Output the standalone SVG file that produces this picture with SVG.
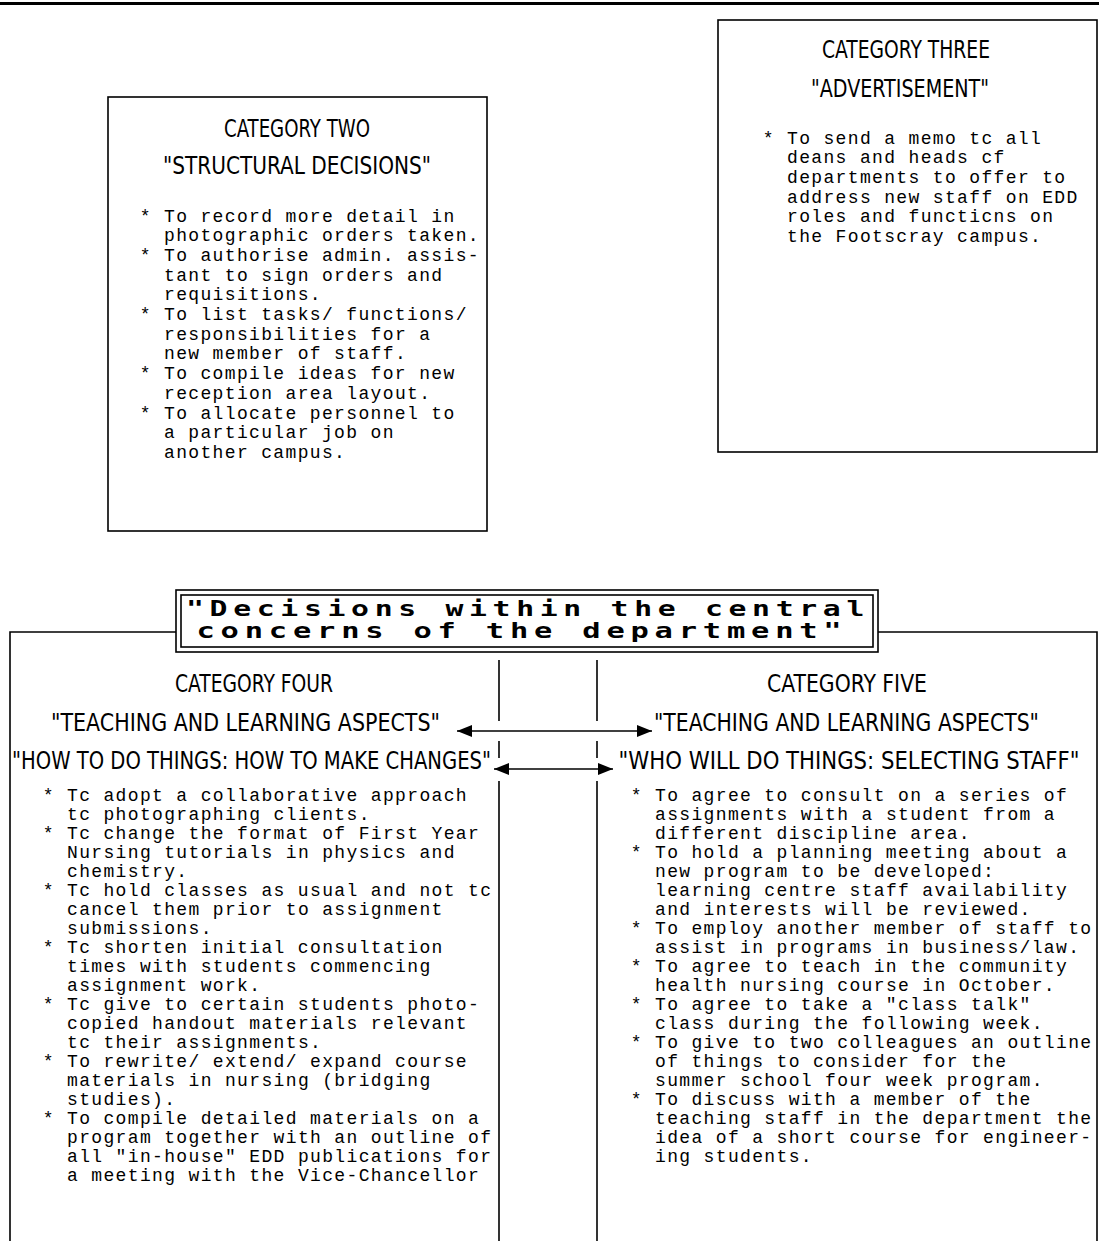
<svg xmlns="http://www.w3.org/2000/svg" width="1099" height="1241" viewBox="0 0 1099 1241">
<style>
.frame{fill:none;stroke:#000;stroke-width:1.6}
.ln{fill:none;stroke:#000;stroke-width:1.6}
.hd{font-family:"Liberation Sans Narrow","DejaVu Sans Condensed","Liberation Sans",sans-serif;font-stretch:condensed;font-size:25px;fill:#000;text-anchor:middle}
.bd{font-family:"Liberation Mono","DejaVu Sans Mono",monospace;font-size:18px;letter-spacing:1.35px;fill:#000}
.tt{font-family:"DejaVu Sans Mono","Liberation Mono",monospace;font-weight:bold;font-size:21px;letter-spacing:4px;fill:#000;text-anchor:middle}
</style>
<defs>
<marker id="ah" viewBox="0 0 15 12" refX="15" refY="6" markerWidth="15" markerHeight="12" markerUnits="userSpaceOnUse" orient="auto-start-reverse">
<path d="M0,0 L15,6 L0,12 Z" fill="#000"/>
</marker>
</defs>
<rect x="0" y="2" width="1099" height="3" fill="#000"/>

<g id="cat2">
<rect class="frame" x="108" y="97" width="379" height="434"/>
<text class="hd" x="297" y="137" textLength="146" lengthAdjust="spacingAndGlyphs">CATEGORY TWO</text>
<text class="hd" x="297" y="174" textLength="268" lengthAdjust="spacingAndGlyphs">"STRUCTURAL DECISIONS"</text>
<text class="bd" x="139.7" y="221.5">* To record more detail in</text>
<text class="bd" x="164" y="241.2">photographic orders taken.</text>
<text class="bd" x="139.7" y="260.9">* To authorise admin. assis-</text>
<text class="bd" x="164" y="280.6">tant to sign orders and</text>
<text class="bd" x="164" y="300.3">requisitions.</text>
<text class="bd" x="139.7" y="320">* To list tasks/ functions/</text>
<text class="bd" x="164" y="339.7">responsibilities for a</text>
<text class="bd" x="164" y="359.4">new member of staff.</text>
<text class="bd" x="139.7" y="379.1">* To compile ideas for new</text>
<text class="bd" x="164" y="398.8">reception area layout.</text>
<text class="bd" x="139.7" y="418.5">* To allocate personnel to</text>
<text class="bd" x="164" y="438.2">a particular job on</text>
<text class="bd" x="164" y="457.9">another campus.</text>
</g>

<g id="cat3">
<rect class="frame" x="718" y="20" width="379" height="432"/>
<text class="hd" x="906" y="58" textLength="168" lengthAdjust="spacingAndGlyphs">CATEGORY THREE</text>
<text class="hd" x="900" y="97" textLength="178" lengthAdjust="spacingAndGlyphs">"ADVERTISEMENT"</text>
<text class="bd" x="762.7" y="143.5">* To send a memo tc all</text>
<text class="bd" x="787" y="163.2">deans and heads cf</text>
<text class="bd" x="787" y="182.9">departments to offer to</text>
<text class="bd" x="787" y="202.6">address new staff on EDD</text>
<text class="bd" x="787" y="222.3">roles and functicns on</text>
<text class="bd" x="787" y="242">the Footscray campus.</text>
</g>

<g id="title">
<rect class="frame" x="176" y="590" width="702" height="62"/>
<rect class="frame" x="181" y="595" width="692" height="52"/>
<text class="tt" x="528" y="616" textLength="684" lengthAdjust="spacingAndGlyphs">"Decisions within the central</text>
<text class="tt" x="522" y="638" textLength="651" lengthAdjust="spacingAndGlyphs">concerns of the department"</text>
</g>

<g id="cat4">
<text class="hd" x="254" y="692" textLength="158" lengthAdjust="spacingAndGlyphs">CATEGORY FOUR</text>
<text class="hd" x="245.5" y="731" textLength="389" lengthAdjust="spacingAndGlyphs">"TEACHING AND LEARNING ASPECTS"</text>
<text class="hd" x="251.5" y="769" textLength="479" lengthAdjust="spacingAndGlyphs">"HOW TO DO THINGS: HOW TO MAKE CHANGES"</text>
<text class="bd" x="42.7" y="800.5">* Tc adopt a collaborative approach</text>
<text class="bd" x="67" y="819.5">tc photographing clients.</text>
<text class="bd" x="42.7" y="838.5">* Tc change the format of First Year</text>
<text class="bd" x="67" y="857.5">Nursing tutorials in physics and</text>
<text class="bd" x="67" y="876.5">chemistry.</text>
<text class="bd" x="42.7" y="895.5">* Tc hold classes as usual and not tc</text>
<text class="bd" x="67" y="914.5">cancel them prior to assignment</text>
<text class="bd" x="67" y="933.5">submissions.</text>
<text class="bd" x="42.7" y="952.5">* Tc shorten initial consultation</text>
<text class="bd" x="67" y="971.5">times with students commencing</text>
<text class="bd" x="67" y="990.5">assignment work.</text>
<text class="bd" x="42.7" y="1009.5">* Tc give to certain students photo-</text>
<text class="bd" x="67" y="1028.5">copied handout materials relevant</text>
<text class="bd" x="67" y="1047.5">tc their assignments.</text>
<text class="bd" x="42.7" y="1066.5">* To rewrite/ extend/ expand course</text>
<text class="bd" x="67" y="1085.5">materials in nursing (bridging</text>
<text class="bd" x="67" y="1104.5">studies).</text>
<text class="bd" x="42.7" y="1123.5">* To compile detailed materials on a</text>
<text class="bd" x="67" y="1142.5">program together with an outline of</text>
<text class="bd" x="67" y="1161.5">all "in-house" EDD publications for</text>
<text class="bd" x="67" y="1180.5">a meeting with the Vice-Chancellor</text>
</g>

<g id="cat5">
<text class="hd" x="847" y="692" textLength="160" lengthAdjust="spacingAndGlyphs">CATEGORY FIVE</text>
<text class="hd" x="846.5" y="731" textLength="385" lengthAdjust="spacingAndGlyphs">"TEACHING AND LEARNING ASPECTS"</text>
<text class="hd" transform="matrix(0.8,0,0,1,849,769)" x="0" y="0" textLength="576" lengthAdjust="spacingAndGlyphs">"WHO WILL DO THINGS: SELECTING STAFF"</text>
<text class="bd" x="630.7" y="800.5">* To agree to consult on a series of</text>
<text class="bd" x="655" y="819.5">assignments with a student from a</text>
<text class="bd" x="655" y="838.5">different discipline area.</text>
<text class="bd" x="630.7" y="857.5">* To hold a planning meeting about a</text>
<text class="bd" x="655" y="876.5">new program to be developed:</text>
<text class="bd" x="655" y="895.5">learning centre staff availability</text>
<text class="bd" x="655" y="914.5">and interests will be reviewed.</text>
<text class="bd" x="630.7" y="933.5">* To employ another member of staff to</text>
<text class="bd" x="655" y="952.5">assist in programs in business/law.</text>
<text class="bd" x="630.7" y="971.5">* To agree to teach in the community</text>
<text class="bd" x="655" y="990.5">health nursing course in October.</text>
<text class="bd" x="630.7" y="1009.5">* To agree to take a "class talk"</text>
<text class="bd" x="655" y="1028.5">class during the following week.</text>
<text class="bd" x="630.7" y="1047.5">* To give to two colleagues an outline</text>
<text class="bd" x="655" y="1066.5">of things to consider for the</text>
<text class="bd" x="655" y="1085.5">summer school four week program.</text>
<text class="bd" x="630.7" y="1104.5">* To discuss with a member of the</text>
<text class="bd" x="655" y="1123.5">teaching staff in the department the</text>
<text class="bd" x="655" y="1142.5">idea of a short course for engineer-</text>
<text class="bd" x="655" y="1161.5">ing students.</text>
</g>

<g id="connectors">
<polyline class="ln" points="176,632 10,632 10,1241"/>
<polyline class="ln" points="878,632 1097,632 1097,1241"/>
<line class="ln" x1="499" y1="660" x2="499" y2="721"/>
<line class="ln" x1="499" y1="741" x2="499" y2="758"/>
<line class="ln" x1="499" y1="781" x2="499" y2="1241"/>
<line class="ln" x1="597" y1="660" x2="597" y2="721"/>
<line class="ln" x1="597" y1="741" x2="597" y2="758"/>
<line class="ln" x1="597" y1="781" x2="597" y2="1241"/>
<line class="ln" x1="457" y1="731" x2="652" y2="731" marker-start="url(#ah)" marker-end="url(#ah)"/>
<line class="ln" x1="494" y1="769" x2="613" y2="769" marker-start="url(#ah)" marker-end="url(#ah)"/>
</g>
</svg>
